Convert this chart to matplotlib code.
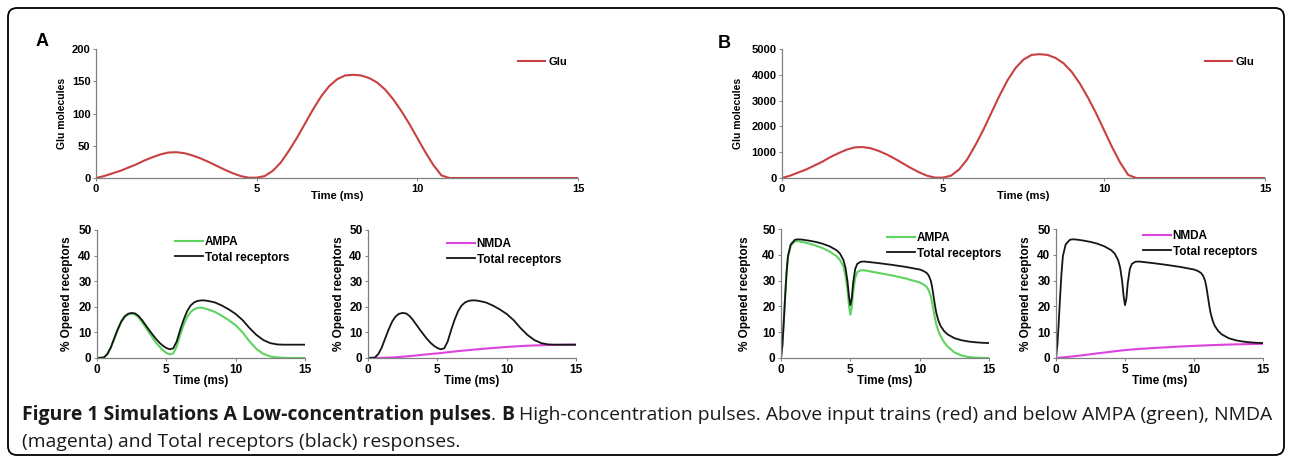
import matplotlib.pyplot as plt
from matplotlib.patches import FancyBboxPatch

plt.rcParams['font.family'] = ['Liberation Sans', 'DejaVu Sans']

# ---- data ----
t_glu = [0, 0.25, 0.5, 0.75, 1, 1.25, 1.5, 1.75, 2, 2.25, 2.5, 2.75, 3, 3.25, 3.5, 3.75,
         4, 4.25, 4.5, 4.75, 5, 5.25, 5.5, 5.75, 6, 6.25, 6.5, 6.75, 7, 7.25, 7.5, 7.75,
         8, 8.25, 8.5, 8.75, 9, 9.25, 9.5, 9.75, 10, 10.25, 10.5, 10.75, 11, 15]
glu_a = [0, 3, 7, 11, 16, 21, 27, 32, 36.5, 39.5, 40, 38.5, 35, 30.5, 25, 19,
         13, 7.5, 3, 0.5, 0.5, 3, 11, 24, 42, 62, 84, 106, 126, 142, 153, 159,
         160, 159, 155, 148, 137, 122, 104, 84, 62, 40, 20, 4, 0, 0]
glu_b = [0, 90, 210, 330, 480, 630, 810, 960, 1095, 1185, 1200, 1155, 1050, 915, 750, 570,
         390, 225, 90, 15, 15, 90, 330, 720, 1260, 1860, 2520, 3180, 3780, 4260, 4590, 4770,
         4800, 4770, 4650, 4440, 4110, 3660, 3120, 2520, 1860, 1200, 600, 120, 0, 0]

t_rec_a = [0, 0.5, 0.75, 1, 1.25, 1.5, 1.75, 2, 2.25, 2.5, 2.75, 3, 3.25, 3.5, 3.75, 4,
           4.25, 4.5, 4.75, 5, 5.25, 5.5, 5.75, 6, 6.25, 6.5, 6.75, 7, 7.25, 7.5, 7.75, 8,
           8.5, 9, 9.5, 10, 10.5, 11, 11.5, 12, 12.5, 13, 13.5, 14, 14.5, 15]
ampa_a = [0, 0.2, 1.5, 4, 7.5, 11, 14, 16, 17, 17.3, 17, 15.8, 14, 12, 10, 8,
          6, 4.5, 3, 2, 1.4, 1.8, 4.5, 9, 13, 16, 18, 19, 19.6, 19.7, 19.4, 19,
          18, 16.5, 14.8, 12.8, 10, 6.5, 3.5, 1.6, 0.6, 0.2, 0.1, 0, 0, 0]
total_a = [0, 0.2, 1.6, 4.2, 7.8, 11.3, 14.3, 16.3, 17.3, 17.6, 17.4, 16.4, 14.8, 12.9, 11, 9.2,
           7.5, 6, 4.8, 3.9, 3.4, 3.8, 6.5, 11, 15, 18.3, 20.5, 21.7, 22.3, 22.5, 22.5, 22.3,
           21.7, 20.5, 19, 17.2, 14.8, 11.7, 9, 7, 5.8, 5.3, 5.2, 5.2, 5.2, 5.2]
nmda_a = [0, 0, 0.02, 0.05, 0.1, 0.15, 0.22, 0.3, 0.4, 0.5, 0.62, 0.75, 0.88, 1.0, 1.15, 1.3,
          1.42, 1.55, 1.68, 1.8, 1.95, 2.1, 2.25, 2.4, 2.55, 2.7, 2.82, 2.95, 3.08, 3.2, 3.32, 3.45,
          3.7, 3.9, 4.1, 4.3, 4.5, 4.65, 4.8, 4.9, 5.0, 5.05, 5.1, 5.15, 5.2, 5.2]

t_rec_b = [0, 0.1, 0.2, 0.3, 0.4, 0.5, 0.7, 1.0, 1.2, 1.5, 2.0, 2.5, 3.0, 3.5, 4.0, 4.25,
           4.5, 4.65, 4.8, 4.9, 5.0, 5.1, 5.2, 5.35, 5.5, 5.75, 6.0, 7.0, 8.0, 9.0, 10.0, 10.25,
           10.5, 10.65, 10.8, 10.9, 11.0, 11.1, 11.2, 11.35, 11.5, 11.75, 12.0, 12.5, 13.0, 13.5,
           14.0, 14.5, 15.0]
total_b = [0, 5, 14, 24, 33, 39.5, 44, 45.8, 46, 45.9, 45.5, 45, 44.3, 43.3, 41.8, 40.5,
           38, 35, 29.5, 24, 20.5, 23, 29, 34.5, 36.5, 37.3, 37.4, 36.8, 36.1, 35.3, 34.3, 33.8,
           33, 32, 30, 27.5, 24, 20.5, 17.5, 14.5, 12.5, 10.5, 9.2, 7.7, 6.9, 6.4,
           6.1, 5.9, 5.8]
ampa_b = [0, 5, 14, 24, 33, 39, 43.5, 45.2, 45.3, 45, 44.4, 43.6, 42.6, 41.3, 39.5, 38,
          35.5, 32, 26, 20.5, 16.8, 19.5, 25.5, 31, 33.3, 34, 34, 33, 32, 30.8, 29.3, 28.6,
          27.6, 26.3, 24, 21.5, 18.5, 15.5, 13, 10.5, 8.6, 6.2, 4.5, 2.2, 1.0, 0.4,
          0.15, 0.05, 0]
nmda_b = [0, 0.05, 0.1, 0.15, 0.2, 0.25, 0.35, 0.5, 0.6, 0.8, 1.1, 1.45, 1.8, 2.1, 2.45, 2.6,
          2.75, 2.85, 2.95, 3.0, 3.05, 3.1, 3.15, 3.2, 3.3, 3.4, 3.5, 3.85, 4.15, 4.45, 4.7, 4.75,
          4.8, 4.85, 4.88, 4.9, 4.92, 4.95, 4.97, 5.0, 5.02, 5.07, 5.12, 5.2, 5.28, 5.33,
          5.4, 5.45, 5.5]

x_ticks = [0, 5, 10, 15]
glu_ticks_a = [0, 50, 100, 150, 200]
glu_ticks_b = [0, 1000, 2000, 3000, 4000, 5000]
rec_ticks = [0, 10, 20, 30, 40, 50]

caption_line1 = [("Figure 1 Simulations A Low-concentration pulses", 'bold'), (". ", 'normal'),
                 ("B", 'bold'),
                 (" High-concentration pulses. Above input trains (red) and below AMPA (green), NMDA", 'normal')]
caption_line2 = [("(magenta) and Total receptors (black) responses.", 'normal')]

RED = '#c94040'
GREEN = '#5fd35f'
MAGENTA = '#dd44dd'
BLACK = '#151515'

W, H = 1290, 463
fig = plt.figure(figsize=(W / 100, H / 100), dpi=100)

# background axes in pixel coordinates (frame, letters, caption)
bg = fig.add_axes([0, 0, 1, 1], zorder=-1)
bg.set_xlim(0, W)
bg.set_ylim(H, 0)
bg.axis('off')
bg.add_patch(FancyBboxPatch((8, 8), 1276, 447, boxstyle='round,pad=0,rounding_size=9',
                            fc='white', ec='black', lw=1.3))


def make_ax(l, t, r, b, yticks, ylabel, ylab_right, fs, lab_fs, xlab_top):
    ax = fig.add_axes([l / W, 1 - b / H, (r - l) / W, (b - t) / H])
    ax.set_xlim(0, 15)
    ax.set_ylim(yticks[0], yticks[-1])
    ax.set_xticks(x_ticks)
    ax.set_yticks(yticks)
    for s in ['top', 'right']:
        ax.spines[s].set_visible(False)
    for s in ['left', 'bottom']:
        ax.spines[s].set_color('#808080')
        ax.spines[s].set_linewidth(0.9)
    ax.tick_params(direction='out', length=2.5, width=0.7, color='#808080', pad=1.5,
                   labelsize=fs)
    for lab in ax.get_xticklabels() + ax.get_yticklabels():
        lab.set_fontweight('bold')
    ax.set_xlabel('Time (ms)', fontsize=fs, fontweight='bold')
    ax.set_ylabel(ylabel, fontsize=lab_fs, fontweight='bold')
    ax.yaxis.set_label_coords((ylab_right - l) / (r - l), 0.5)
    ax.xaxis.set_label_coords(0.5, -(xlab_top - b) / (b - t))
    ax.patch.set_alpha(0)
    return ax


def add_legend(ax, x, y, fs, pad):
    ax.legend(loc='upper left', bbox_to_anchor=(x, y), bbox_transform=bg.transData,
              frameon=False, borderpad=0, borderaxespad=0, handlelength=2.4,
              handletextpad=pad, labelspacing=0.3, prop={'size': fs, 'weight': 'bold'})


TOP_FS = 8
BOT_FS = 8.5

# ---- panel A ----
ax = make_ax(96, 49, 578, 178, glu_ticks_a, 'Glu molecules', 67, TOP_FS, 7.5, 191)
ax.plot(t_glu, glu_a, color=RED, lw=1.5, label='Glu')
add_legend(ax, 518, 57, TOP_FS, 0.35)

ax = make_ax(97, 230, 305, 358, rec_ticks, '% Opened receptors', 73, BOT_FS, BOT_FS, 375)
ax.plot(t_rec_a, ampa_a, color=GREEN, lw=1.5, label='AMPA')
ax.plot(t_rec_a, total_a, color=BLACK, lw=1.3, label='Total receptors')
add_legend(ax, 175, 236, BOT_FS, 0.1)

ax = make_ax(368, 230, 576, 358, rec_ticks, '% Opened receptors', 345, BOT_FS, BOT_FS, 375)
ax.plot(t_rec_a, nmda_a, color=MAGENTA, lw=1.5, label='NMDA')
ax.plot(t_rec_a, total_a, color=BLACK, lw=1.3, label='Total receptors')
add_legend(ax, 447, 238, BOT_FS, 0.1)

# ---- panel B ----
ax = make_ax(782, 49, 1265, 178, glu_ticks_b, 'Glu molecules', 743, TOP_FS, 7.5, 191)
ax.plot(t_glu, glu_b, color=RED, lw=1.5, label='Glu')
add_legend(ax, 1205, 57, TOP_FS, 0.35)

ax = make_ax(781, 229, 989, 358, rec_ticks, '% Opened receptors', 751, BOT_FS, BOT_FS, 375)
ax.plot(t_rec_b, ampa_b, color=GREEN, lw=1.5, label='AMPA')
ax.plot(t_rec_b, total_b, color=BLACK, lw=1.3, label='Total receptors')
add_legend(ax, 887, 232, BOT_FS, 0.1)

ax = make_ax(1056, 229, 1263, 358, rec_ticks, '% Opened receptors', 1032, BOT_FS, BOT_FS, 375)
ax.plot(t_rec_b, nmda_b, color=MAGENTA, lw=1.5, label='NMDA')
ax.plot(t_rec_b, total_b, color=BLACK, lw=1.3, label='Total receptors')
add_legend(ax, 1143, 230, BOT_FS, 0.1)

# panel letters
bg.text(36, 41, 'A', fontsize=13, fontweight='bold', va='center', ha='left')
bg.text(718, 43, 'B', fontsize=13, fontweight='bold', va='center', ha='left')

# ---- caption, pieces laid out one after another ----
renderer = fig.canvas.get_renderer()
cap_font = ['Open Sans', 'DejaVu Sans']


def measure(parts, size):
    total = 0
    for s, w in parts:
        t = bg.text(0, 0, s, fontsize=size, fontweight=w, family=cap_font)
        total += t.get_window_extent(renderer).width
        t.remove()
    return total


size = 10 * (1276 - 22) / measure(caption_line1, 10)


def draw_line(parts, x, y):
    for s, w in parts:
        t = bg.text(x, y, s, fontsize=size, fontweight=w, family=cap_font,
                    va='baseline', ha='left', color='#1a1a1a')
        x += t.get_window_extent(renderer).width


draw_line(caption_line1, 22, 420)
draw_line(caption_line2, 22, 447)

fig.savefig('out.png', dpi=100)
